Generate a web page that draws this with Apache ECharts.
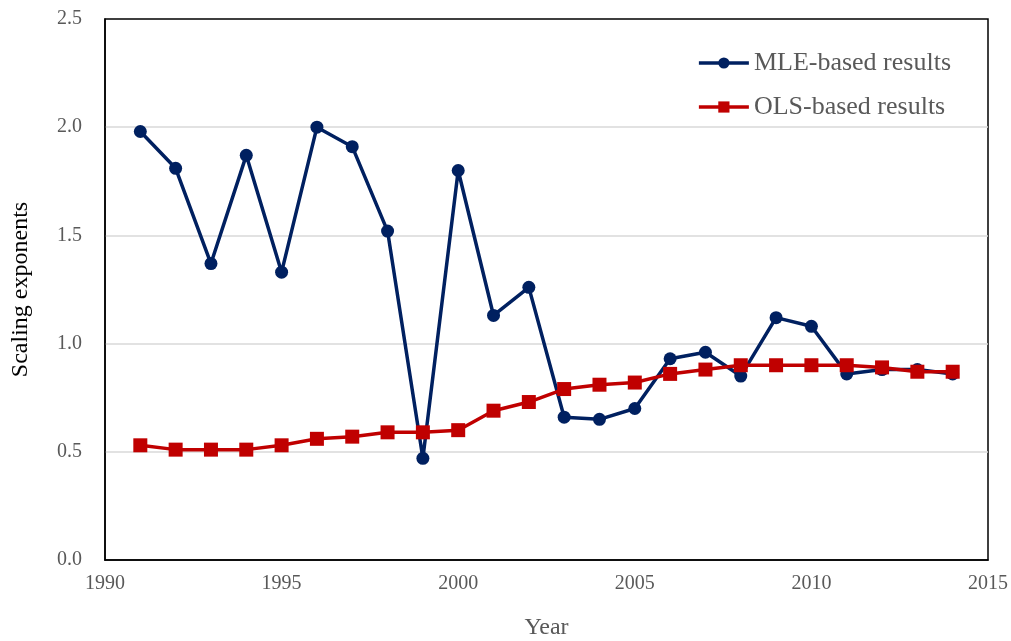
<!DOCTYPE html>
<html lang="en">
<head>
    <meta charset="UTF-8">
    <title>Scaling exponents</title>
    <script src="https://cdn.jsdelivr.net/npm/echarts@6/dist/echarts.min.js"></script>
    <style>
        body { margin: 0; padding: 0; overflow: hidden; background: #fff; }
        #main { width: 1011px; height: 641px; }
    </style>
</head>
<body>
<div id="main"></div>
<script>
    var years = [1991, 1992, 1993, 1994, 1995, 1996, 1997, 1998, 1999, 2000, 2001, 2002,
        2003, 2004, 2005, 2006, 2007, 2008, 2009, 2010, 2011, 2012, 2013, 2014];
    var mle = [1.98, 1.81, 1.37, 1.87, 1.33, 2.0, 1.91, 1.52, 0.47, 1.80, 1.13, 1.26,
        0.66, 0.65, 0.70, 0.93, 0.96, 0.85, 1.12, 1.08, 0.86, 0.88, 0.88, 0.86];
    var ols = [0.53, 0.51, 0.51, 0.51, 0.53, 0.56, 0.57, 0.59, 0.59, 0.60, 0.69, 0.73,
        0.79, 0.81, 0.82, 0.86, 0.88, 0.90, 0.90, 0.90, 0.90, 0.89, 0.87, 0.87];

    function pairs(vals) {
        return years.map(function (y, i) { return [y, vals[i]]; });
    }

    var font = "'Liberation Serif', 'Times New Roman', serif";
    var chart = echarts.init(document.getElementById('main'));
    var option = {
        animation: false,
        textStyle: { fontFamily: font },
        grid: {
            left: 105, right: 23, top: 19, bottom: 81,
            outerBoundsMode: 'none',
            show: true, borderColor: '#000', borderWidth: 1.5, backgroundColor: 'transparent'
        },
        legend: {
            right: 55, top: 45,
            orient: 'vertical',
            itemGap: 18,
            itemWidth: 50, itemHeight: 14,
            lineStyle: { width: 3.5 },
            textStyle: { fontFamily: font, fontSize: 26, color: '#595959' },
            data: ['MLE-based results', 'OLS-based results']
        },
        xAxis: {
            type: 'value',
            min: 1990, max: 2015, interval: 5,
            name: 'Year', nameLocation: 'middle', nameGap: 56,
            nameTextStyle: { fontFamily: font, fontSize: 24, color: '#595959' },
            axisLine: { lineStyle: { color: '#000', width: 1.5 } },
            axisTick: { show: false },
            splitLine: { show: false },
            axisLabel: {
                fontFamily: font, fontSize: 20, color: '#595959', margin: 14,
                formatter: function (v) { return String(v); }
            }
        },
        yAxis: {
            type: 'value',
            min: 0, max: 2.5, interval: 0.5,
            name: 'Scaling exponents', nameLocation: 'middle', nameGap: 72,
            nameTextStyle: { fontFamily: font, fontSize: 24, color: '#000' },
            axisLine: { show: true, lineStyle: { color: '#000', width: 1.5 } },
            axisTick: { show: false },
            splitLine: { showMinLine: false, showMaxLine: false, lineStyle: { color: '#d9d9d9', width: 1.5 } },
            axisLabel: {
                fontFamily: font, fontSize: 20, color: '#595959', margin: 23,
                formatter: function (v) { return v.toFixed(1); }
            }
        },
        series: [{
            name: 'MLE-based results',
            type: 'line',
            data: pairs(mle),
            symbol: 'circle', symbolSize: 13,
            itemStyle: { color: '#002060' },
            lineStyle: { color: '#002060', width: 3.5 },
            z: 3
        }, {
            name: 'OLS-based results',
            type: 'line',
            data: pairs(ols),
            symbol: 'rect', symbolSize: 14,
            itemStyle: { color: '#c00000' },
            lineStyle: { color: '#c00000', width: 3.5 },
            z: 4
        }]
    };
    chart.setOption(option);
</script>
</body>
</html>
